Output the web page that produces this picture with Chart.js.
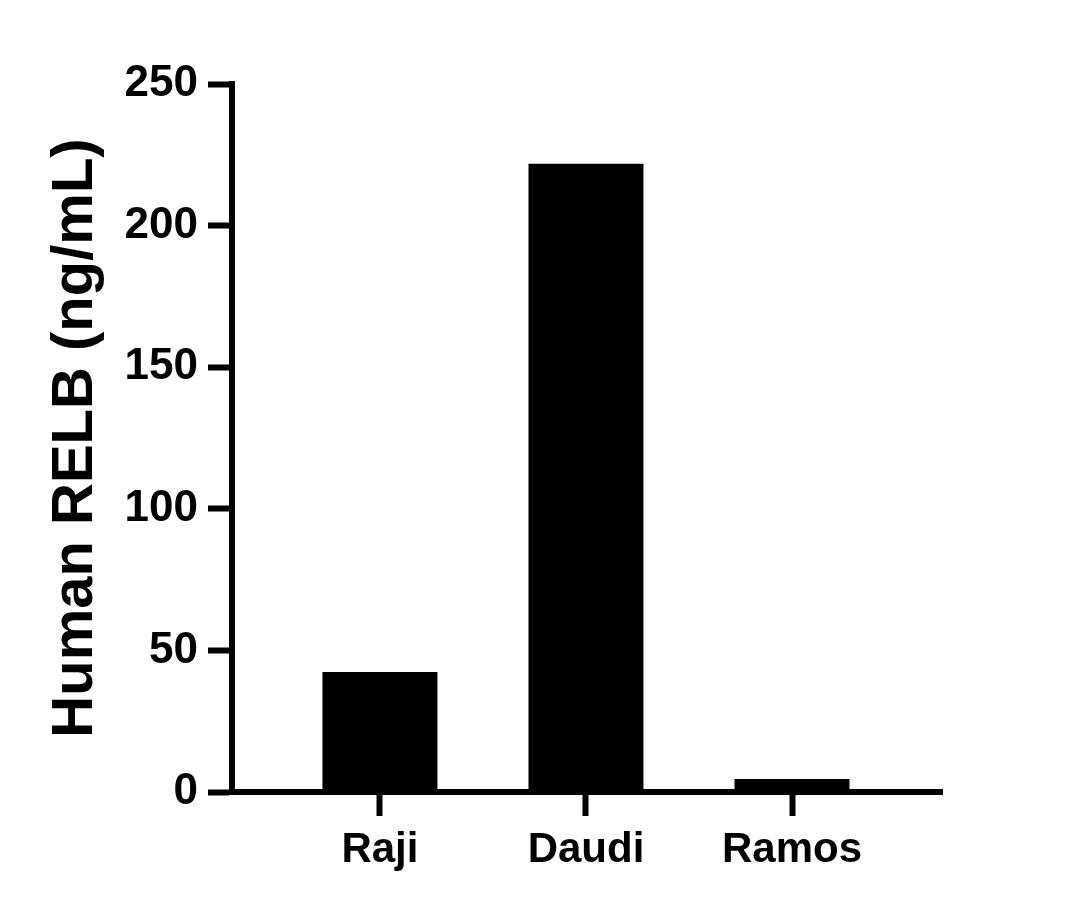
<!DOCTYPE html>
<html>
<head>
<meta charset="utf-8">
<script src="https://cdn.jsdelivr.net/npm/chart.js@4/dist/chart.umd.min.js"></script>
<style>
  html, body { margin: 0; padding: 0; background: #fff; }
  #wrap { width: 1074px; height: 909px; }
</style>
</head>
<body>
<div id="wrap"><canvas id="relb-chart"></canvas></div>
<script>
  // values
  const cellLines = ['Raji', 'Daudi', 'Ramos'];
  const relbValues = [42.4, 221.8, 4.6];
  const yTicks = [0, 50, 100, 150, 200, 250];

  const fontFamily = '"Liberation Sans", Arial, sans-serif';

  const points = cellLines.map((name, i) => ({ x: i + 1, y: relbValues[i] }));

  const ctx = document.getElementById('relb-chart').getContext('2d');
  new Chart(ctx, {
    type: 'bar',
    data: {
      datasets: [{
        label: 'Human RELB',
        data: points,
        backgroundColor: '#000',
        borderWidth: 0,
        categoryPercentage: 1,
        barPercentage: 0.558,
      }]
    },
    options: {
      responsive: true,
      maintainAspectRatio: false,
      animation: false,
      layout: { padding: { left: 0, top: 84, right: 132, bottom: 0 } },
      plugins: {
        legend: { display: false },
        tooltip: { enabled: false },
      },
      scales: {
        x: {
          type: 'linear',
          min: 0.282,
          max: 3.728,
          offset: false,
          afterBuildTicks: (scale) => {
            scale.ticks = cellLines.map((c, i) => ({ value: i + 1 }));
          },
          afterFit: (scale) => { scale.height = 117; },
          ticks: {
            callback: (value) => cellLines[value - 1],
            color: '#000',
            padding: 9,
            maxRotation: 0,
            font: { family: fontFamily, size: 42, weight: 'bold' },
          },
          grid: {
            offset: false,
            drawOnChartArea: false,
            color: '#000',
            tickLength: 24,
            tickWidth: 6,
          },
          border: { display: true, color: '#000', width: 6 },
        },
        y: {
          min: 0,
          max: 250,
          afterBuildTicks: (scale) => {
            scale.ticks = yTicks.map(v => ({ value: v }));
          },
          afterFit: (scale) => { scale.width = 232; },
          ticks: {
            color: '#000',
            padding: 10,
            font: { family: fontFamily, size: 44, weight: 'bold' },
          },
          grid: {
            drawOnChartArea: false,
            color: '#000',
            tickLength: 24,
            tickWidth: 6,
          },
          border: { display: true, color: '#000', width: 6 },
          title: {
            display: true,
            text: 'Human RELB (ng/mL)',
            color: '#000',
            padding: { top: 41, bottom: 0 },
            font: { family: fontFamily, size: 58, weight: 'bold' },
          },
        },
      },
    },
  });
</script>
</body>
</html>
